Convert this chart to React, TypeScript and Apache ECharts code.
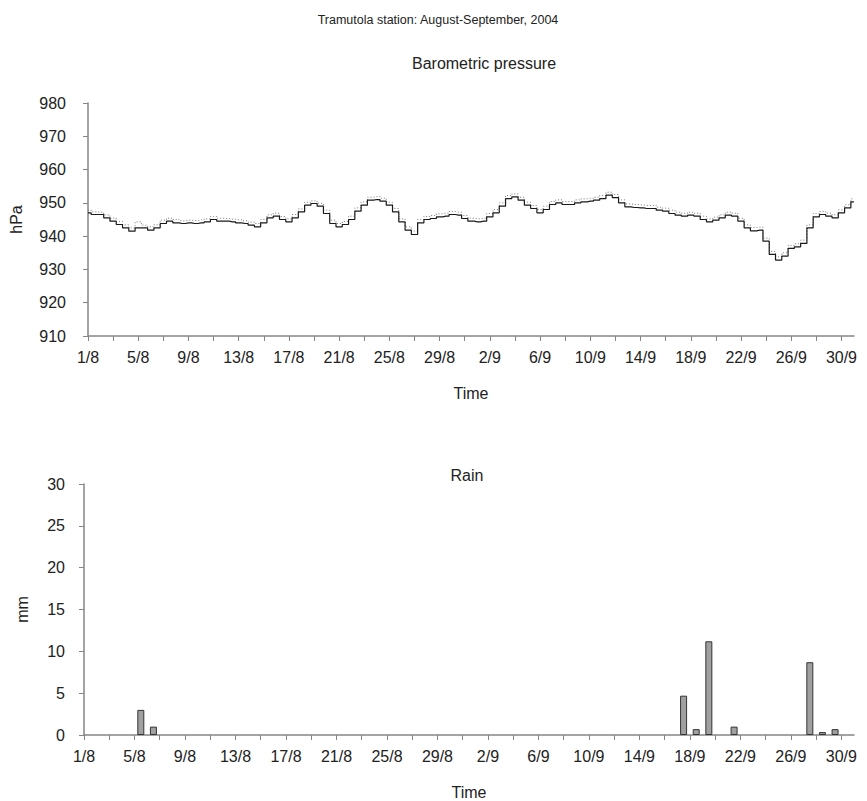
import React, { useEffect, useRef } from "react";
import * as echarts from "echarts";

// Pressure readings every half day from 1/8 (day 0) to 1/10 (day 61)
const pressure: number[] = [
  947, 946.5, 946.5, 945.5, 944.5, 943.5, 942.5, 941.5, 942.5, 942.5,
  941.8, 942.5, 943.8, 944.5, 944, 943.8, 944, 943.8, 944, 944.3,
  945, 944.5, 944.5, 944.3, 944, 943.8, 943.3, 942.8, 944, 945.5,
  946, 945, 944.3, 945.5, 947.3, 949.3, 949.8, 949, 946.8, 943.8,
  942.8, 943.5, 945, 947.5, 949.3, 950.8, 951, 950.5, 949.3, 947.3,
  944.3, 941.8, 940.5, 944, 945, 945.3, 945.8, 946, 946.5, 946.3,
  945.3, 944.5, 944.3, 944.5, 945.8, 947, 949, 951.3, 951.8, 950.8,
  949.3, 948.3, 947, 948, 949.5, 950, 949.5, 949.5, 950, 950.3,
  950.5, 950.8, 951.3, 952.3, 951.6, 950, 948.8, 948.6, 948.5, 948.3,
  948.3, 947.8, 947.5, 946.8, 946.3, 946, 946.3, 946, 945, 944.3,
  944.8, 945.5, 946.3, 946, 944.5, 942.5, 941.6, 941.8, 938.5, 934.5,
  932.8, 934, 936.3, 936.8, 937.8, 942.5, 945.8, 946.5, 946, 945.5,
  947, 948.5, 950.3,
];

// Dotted companion trace (upper readings)
const pressureUpper: number[] = [
  947.8, 947.3, 947.2, 946.4, 945.4, 944.4, 943.4, 942.5, 944.3, 943.3,
  942.8, 943.4, 944.8, 945.4, 945, 944.6, 944.8, 944.7, 944.9, 945.2,
  945.9, 945.4, 945.3, 945.1, 944.9, 944.6, 944.2, 943.8, 945, 946.4,
  946.9, 945.9, 945.2, 946.5, 948.2, 950.2, 950.6, 949.9, 947.8, 944.8,
  943.8, 944.4, 946, 948.5, 950.3, 951.7, 951.9, 951.4, 950.2, 948.3,
  945.2, 942.8, 941.5, 945, 945.9, 946.2, 946.7, 946.9, 947.4, 947.2,
  946.2, 945.4, 945.2, 945.4, 946.8, 948, 950, 952.2, 952.7, 951.7,
  950.2, 949.2, 948, 949, 950.4, 950.9, 950.4, 950.4, 950.9, 951.2,
  951.4, 951.7, 952.2, 953.2, 952.5, 950.9, 949.7, 949.5, 949.4, 949.2,
  949.2, 948.7, 948.4, 947.8, 947.2, 946.9, 947.2, 946.9, 946, 945.2,
  945.7, 946.4, 947.2, 946.9, 945.4, 943.4, 942.6, 942.7, 939.4, 935.4,
  933.8, 935, 937.2, 937.7, 938.8, 943.4, 946.8, 947.4, 946.9, 946.4,
  947.9, 949.4, 951.2,
];

// Rain: day offset (days since 1/8) and mm
const rainDays: number[] = [4.5, 5.5, 47.5, 48.5, 49.5, 51.5, 57.5, 58.5, 59.5];
const rainMm: number[] = [3.0, 1.0, 4.7, 0.7, 11.2, 1.0, 8.7, 0.35, 0.7];

const FONT = "'Liberation Sans', Arial, sans-serif";
const AXIS_COLOR = "#868686";
const TEXT_COLOR = "#222";

function dayLabel(v: number): string {
  if (v % 4 !== 0) return "";
  if (v < 31) return `${v + 1}/8`;
  return `${v - 30}/9`;
}

export default function App() {
  const ref = useRef<HTMLDivElement>(null);

  useEffect(() => {
    document.body.style.margin = "0";
    if (!ref.current) return;
    const chart = echarts.init(ref.current, undefined, { renderer: "svg" });

    const xAxisBase = (gridIndex: number) => ({
      type: "value" as const,
      gridIndex,
      min: 0,
      max: 61,
      interval: 2,
      name: "Time",
      nameLocation: "middle" as const,
      nameGap: 49,
      nameTextStyle: { fontFamily: FONT, fontSize: 16, color: TEXT_COLOR },
      axisLine: { show: true, onZero: false, lineStyle: { color: AXIS_COLOR, width: 1.5 } },
      axisTick: { show: true, length: 5, lineStyle: { color: AXIS_COLOR } },
      axisLabel: {
        fontFamily: FONT,
        fontSize: 16,
        color: TEXT_COLOR,
        margin: 13,
        showMaxLabel: false,
        formatter: (v: number) => dayLabel(v),
      },
      splitLine: { show: false },
    });

    const pressData = pressure.map((v, i) => [i * 0.5, v]);
    const upperData = pressureUpper.map((v, i) => [i * 0.5, v]);
    const rainData = rainDays.map((d, i) => [d, rainMm[i]]);

    chart.setOption({
      animation: false,
      backgroundColor: "#fff",
      title: [
        {
          text: "Tramutola station: August-September, 2004",
          left: 433,
          top: 8,
          textAlign: "center",
          textStyle: { fontFamily: FONT, fontSize: 12.5, fontWeight: "normal", color: TEXT_COLOR },
        },
        {
          text: "Barometric pressure",
          left: 479,
          top: 50,
          textAlign: "center",
          textStyle: { fontFamily: FONT, fontSize: 16, fontWeight: "normal", color: TEXT_COLOR },
        },
        {
          text: "Rain",
          left: 462,
          top: 462,
          textAlign: "center",
          textStyle: { fontFamily: FONT, fontSize: 16, fontWeight: "normal", color: TEXT_COLOR },
        },
      ],
      grid: [
        { left: 83, top: 103, width: 771, height: 233 },
        { left: 84, top: 484, width: 770, height: 254 },
      ],
      xAxis: [xAxisBase(0), xAxisBase(1)],
      yAxis: [
        {
          type: "value",
          gridIndex: 0,
          min: 910,
          max: 980,
          interval: 10,
          name: "hPa",
          nameLocation: "middle",
          nameGap: 64,
          nameTextStyle: { fontFamily: FONT, fontSize: 16, color: TEXT_COLOR },
          axisLine: { show: true, lineStyle: { color: AXIS_COLOR, width: 1.5 } },
          axisTick: { show: true, length: 5, lineStyle: { color: AXIS_COLOR } },
          axisLabel: { fontFamily: FONT, fontSize: 16, color: TEXT_COLOR, margin: 22 },
          splitLine: { show: false },
        },
        {
          type: "value",
          gridIndex: 1,
          min: 0,
          max: 30,
          interval: 5,
          name: "mm",
          nameLocation: "middle",
          nameGap: 54,
          nameTextStyle: { fontFamily: FONT, fontSize: 16, color: TEXT_COLOR },
          axisLine: { show: true, lineStyle: { color: AXIS_COLOR, width: 1.5 } },
          axisTick: { show: true, length: 5, lineStyle: { color: AXIS_COLOR } },
          axisLabel: { fontFamily: FONT, fontSize: 16, color: TEXT_COLOR, margin: 19 },
          splitLine: { show: false },
        },
      ],
      series: [
        {
          type: "line",
          xAxisIndex: 0,
          yAxisIndex: 0,
          data: upperData,
          step: "middle",
          symbol: "none",
          lineStyle: { color: "#777", width: 1, type: [1, 2] },
          z: 2,
        },
        {
          type: "line",
          xAxisIndex: 0,
          yAxisIndex: 0,
          data: pressData,
          step: "middle",
          symbol: "none",
          lineStyle: { color: "#1a1a1a", width: 1.2 },
          z: 3,
        },
        {
          type: "bar",
          xAxisIndex: 1,
          yAxisIndex: 1,
          data: rainData,
          barWidth: 7,
          itemStyle: { color: "#a0a0a0", borderColor: "#333", borderWidth: 1 },
        },
      ],
    });

    return () => chart.dispose();
  }, []);

  return <div ref={ref} style={{ width: 867, height: 801 }} />;
}
